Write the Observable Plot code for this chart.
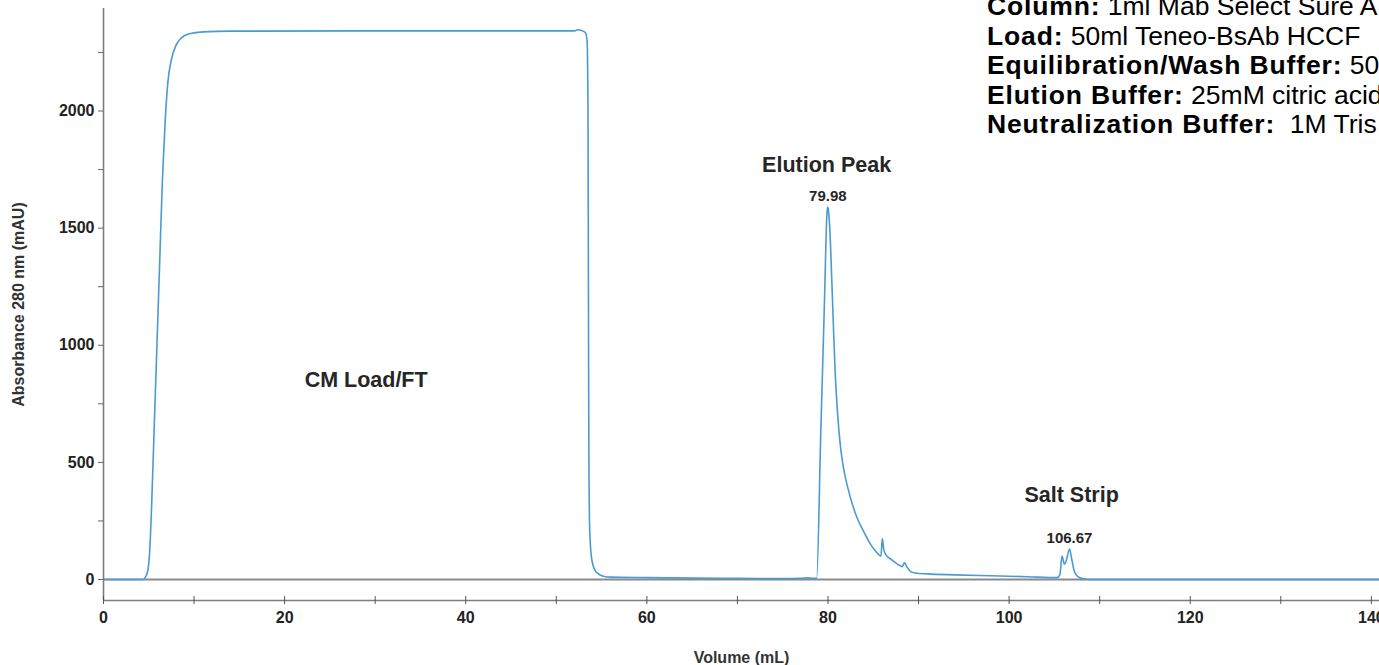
<!DOCTYPE html>
<html><head><meta charset="utf-8">
<script src="https://cdn.jsdelivr.net/npm/d3@7"></script>
<script src="https://cdn.jsdelivr.net/npm/@observablehq/plot@0.6"></script>
<style>
html,body{margin:0;padding:0;overflow:hidden;background:#fff;width:1379px;height:665px}
#chart{position:relative;width:1379px;height:665px;overflow:hidden}
#chart svg{position:absolute;left:0;top:0}
#info{position:absolute;left:987px;top:-8px;font-family:"Liberation Sans",Arial,Helvetica,sans-serif;font-size:26.5px;line-height:29.5px;color:#000;white-space:nowrap}
#info b{letter-spacing:0.85px}
</style></head><body>
<div id="chart"><div id="info"></div></div>
<script>
// Chromatogram trace (Volume mL, Absorbance 280 nm mAU)
const volume = [0,4.3,4.6,4.9,5.1,5.3,5.6,5.9,6.2,6.5,6.8,7.1,7.5,8.0,8.6,9.5,11,14,30,50,52.0,52.4,52.8,53.2,53.4,53.5,53.55,53.6,53.7,53.9,54.2,54.6,55.2,56,60,65,70,75,77,77.8,78.3,78.75,79.2,79.6,79.9,79.98,80.05,80.2,80.4,80.6,80.8,81.1,81.4,81.7,82.2,82.7,83.2,84,84.7,85.4,85.85,86.0,86.15,86.4,87,87.6,88.2,88.45,88.7,89.1,89.6,91,94,98,102,105.3,105.6,105.85,106.1,106.3,106.67,106.9,107.2,107.6,108.2,108.8,141];
const absorbance = [0,0,8,40,120,300,650,1000,1350,1700,1950,2120,2220,2280,2312,2330,2338,2341,2342,2342,2342,2347,2344,2335,2300,2000,1200,500,200,90,45,25,14,10,8,6,5,4,5,7,5,5,620,1170,1570,1590,1575,1500,1300,1080,880,690,560,480,390,320,265,200,150,115,100,175,130,105,85,68,55,72,55,35,28,24,20,16,12,8,20,100,65,80,130,90,35,12,3,0,0];

// Axis ticks
const xMajorTicks = [0,20,40,60,80,100,120,140];
const xAllTicks = [0,10,20,30,40,50,60,70,80,90,100,110,120,130,140];
const yMajorTicks = [0,500,1000,1500,2000];
const yAllTicks = [0,250,500,750,1000,1250,1500,1750,2000,2250];
const xLabel = "Volume (mL)";
const yLabel = "Absorbance 280 nm (mAU)";

// Region annotations
const regionLabels = ["CM Load/FT","Elution Peak","Salt Strip"];
const regionVolume = [29.0,79.85,106.9];
const regionAbs = [850,1767,359];

// Peak labels
const peakLabels = ["79.98","106.67"];
const peakVolume = [79.98,106.67];
const peakAbs = [1590,130];

// Method notes (top right)
const noteKeys = ["Column:","Load:","Equilibration/Wash Buffer:","Elution Buffer:","Neutralization Buffer:"];
const noteValues = [" 1ml Mab Select Sure A"," 50ml Teneo-BsAb HCCF"," 50"," 25mM citric acid","  1M Tris"];

const xMin = 0, xMax = 140.9, yMin = -89.6, yMax = 2437.6;

const trace = volume.map((v, i) => ({volume: v, absorbance: absorbance[i]}));
const regions = regionLabels.map((t, i) => ({t, x: regionVolume[i], y: regionAbs[i]}));
const peaks = peakLabels.map((t, i) => ({t, x: peakVolume[i], y: peakAbs[i]}));

const font = '"Liberation Sans", Arial, Helvetica, sans-serif';
const axisGray = "#7d7d7d";

const chart = Plot.plot({
  width: 1379, height: 665,
  marginLeft: 103, marginRight: 0, marginTop: 8, marginBottom: 65,
  x: {domain: [xMin, xMax]},
  y: {domain: [yMin, yMax]},
  style: {fontFamily: font, background: "transparent", overflow: "visible"},
  marks: [
    Plot.ruleY([0], {stroke: "#8a8a8a", strokeWidth: 2.2}),
    Plot.line(trace, {x: "volume", y: "absorbance", stroke: "#4a9bd1", strokeWidth: 1.6, curve: "monotone-x"}),
    Plot.ruleX([xMin], {stroke: axisGray, strokeWidth: 1.6}),
    Plot.ruleY([yMin], {stroke: axisGray, strokeWidth: 1.6}),
    Plot.ruleX(xAllTicks, {x: d => d, y1: yMin, y2: yMin, insetTop: -4, insetBottom: -4, stroke: "#555", strokeWidth: 1}),
    Plot.axisX({ticks: xMajorTicks, tickSize: 0, tickPadding: 11, fontSize: 16, fontWeight: "bold", color: "#222", label: null, tickFormat: d => String(d)}),
    Plot.axisY({ticks: yAllTicks, tickSize: 5, color: "#666", tickFormat: () => "", label: null}),
    Plot.axisY({ticks: yMajorTicks, tickSize: 0, tickPadding: 9, fontSize: 16, fontWeight: "bold", color: "#222", label: null, tickFormat: d => String(d)}),
    Plot.text([yLabel], {text: d => d, frameAnchor: "left", dx: -85, rotate: -90, textAnchor: "middle", lineAnchor: "middle", fontSize: 16, fontWeight: "bold", fill: "#333"}),
    Plot.text([xLabel], {text: d => d, frameAnchor: "bottom", dy: 57, textAnchor: "middle", lineAnchor: "middle", fontSize: 16, fontWeight: "bold", fill: "#333"}),
    Plot.text(regions, {x: "x", y: "y", text: "t", fontSize: 21.5, fontWeight: "bold", fill: "#262626"}),
    Plot.text(peaks, {x: "x", y: "y", text: "t", dy: -11, fontSize: 15, fontWeight: "bold", fill: "#262626"})
  ]
});
document.getElementById("chart").prepend(chart);

const info = document.getElementById("info");
noteKeys.forEach((k, i) => {
  const line = document.createElement("div");
  const b = document.createElement("b");
  b.textContent = k;
  line.appendChild(b);
  line.appendChild(document.createTextNode(noteValues[i].replace(/  /g, "\u00a0 ")));
  info.appendChild(line);
});
</script>
</body></html>
